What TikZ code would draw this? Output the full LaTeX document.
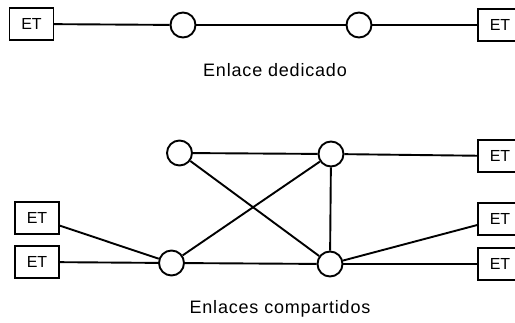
\documentclass[tikz,border=0pt]{standalone}
\usepackage{fontspec}
\setmainfont{Liberation Sans}
\newfontfamily\labfont[LetterSpace=4.5]{Liberation Sans}
\begin{document}
\begin{tikzpicture}[x=1pt,y=-1pt,
  etbox/.style={draw, line width=1.3pt, minimum width=44pt, minimum height=32pt, inner sep=0pt, font=\fontsize{16}{16}\selectfont},
  sw/.style={draw, circle, line width=1.9pt, minimum size=25pt, inner sep=0pt},
  lnk/.style={line width=1.9pt},
  lab/.style={font=\labfont\fontsize{18}{18}\selectfont, anchor=base}]
\useasboundingbox (0,0) rectangle (515,323);
\clip (0,0) rectangle (515,323);
% dedicated link
\node[etbox] (e1) at (31.5,24) {ET};
\node[sw] (c1) at (183,25) {};
\node[sw] (c2) at (359,25) {};
\node[etbox] (e2) at (500,25) {ET};
\draw[lnk] (e1) -- (c1);
\draw[lnk] (c1) -- (c2);
\draw[lnk] (c2) -- (e2);
\node[lab] (l1) at (275,77) {Enlace dedicado};
% shared links
\node[sw] (tl) at (179.5,153) {};
\node[sw] (tr) at (331,154) {};
\node[sw] (bl) at (171.5,263) {};
\node[sw] (br) at (330,264) {};
\node[etbox] (la) at (37,218) {ET};
\node[etbox] (lb) at (37,262) {ET};
\node[etbox] (ra) at (500,156) {ET};
\node[etbox] (rb) at (500,219) {ET};
\node[etbox] (rc) at (500,264) {ET};
\draw[lnk] (la) -- (bl);
\draw[lnk] (lb) -- (bl);
\draw[lnk] (tl) -- (tr);
\draw[lnk] (tl) -- (br);
\draw[lnk] (bl) -- (tr);
\draw[lnk] (tr) -- (br);
\draw[lnk] (bl) -- (br);
\draw[lnk] (tr) -- (ra);
\draw[lnk] (br) -- (rb);
\draw[lnk] (br) -- (rc);
\node[lab] (l2) at (280,314) {Enlaces compartidos};
\end{tikzpicture}
\end{document}
